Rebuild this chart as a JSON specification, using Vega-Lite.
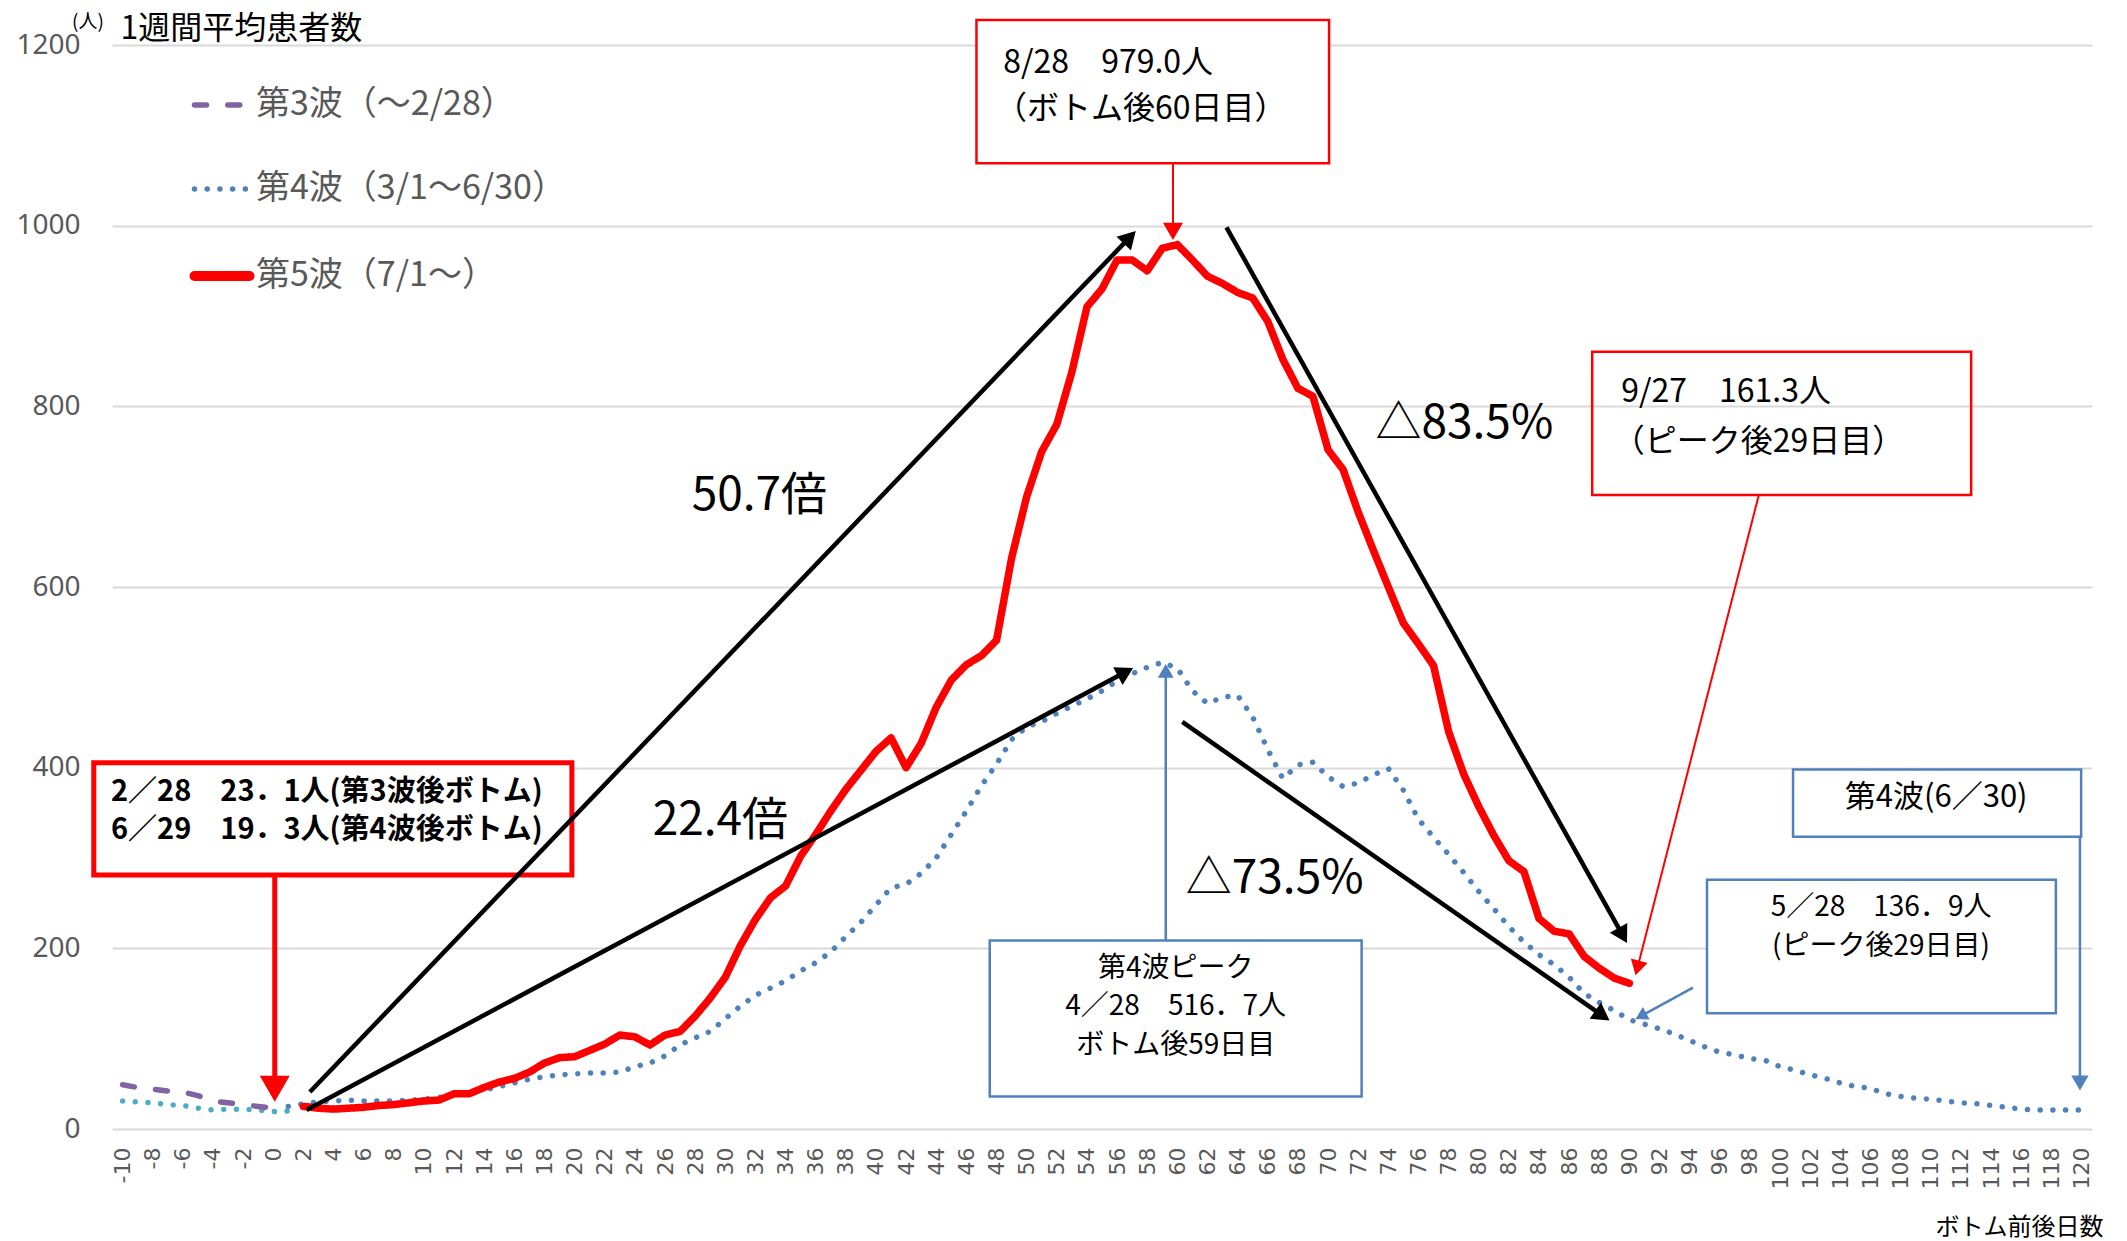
{
  "$schema": "https://vega.github.io/schema/vega-lite/v6.json",
  "width": 1980,
  "height": 1084,
  "autosize": {"type": "none"},
  "padding": {"left": 112, "top": 45, "right": 35, "bottom": 112},
  "background": "#ffffff",
  "config": {"view": {"stroke": null}, "font": "Noto Sans CJK JP"},
  "datasets": {
    "series": [
      {"s": "第3波（〜2/28）", "x": -10, "y": 49}, {"s": "第3波（〜2/28）", "x": -9, "y": 46}, {"s": "第3波（〜2/28）", "x": -8, "y": 44}, {"s": "第3波（〜2/28）", "x": -7, "y": 42}, {"s": "第3波（〜2/28）", "x": -6, "y": 41}, {"s": "第3波（〜2/28）", "x": -5, "y": 37}, {"s": "第3波（〜2/28）", "x": -4, "y": 31}, {"s": "第3波（〜2/28）", "x": -3, "y": 29}, {"s": "第3波（〜2/28）", "x": -2, "y": 27}, {"s": "第3波（〜2/28）", "x": -1, "y": 25}, {"s": "第3波（〜2/28）", "x": 0, "y": 23.1},
      {"s": "第4波（3/1〜6/30）", "x": 1, "y": 25}, {"s": "第4波（3/1〜6/30）", "x": 2, "y": 28}, {"s": "第4波（3/1〜6/30）", "x": 3, "y": 30}, {"s": "第4波（3/1〜6/30）", "x": 4, "y": 31}, {"s": "第4波（3/1〜6/30）", "x": 5, "y": 32}, {"s": "第4波（3/1〜6/30）", "x": 6, "y": 31}, {"s": "第4波（3/1〜6/30）", "x": 7, "y": 31}, {"s": "第4波（3/1〜6/30）", "x": 8, "y": 31}, {"s": "第4波（3/1〜6/30）", "x": 9, "y": 32}, {"s": "第4波（3/1〜6/30）", "x": 10, "y": 33},
      {"s": "第4波（3/1〜6/30）", "x": 11, "y": 35}, {"s": "第4波（3/1〜6/30）", "x": 12, "y": 38}, {"s": "第4波（3/1〜6/30）", "x": 13, "y": 40}, {"s": "第4波（3/1〜6/30）", "x": 14, "y": 43}, {"s": "第4波（3/1〜6/30）", "x": 15, "y": 47}, {"s": "第4波（3/1〜6/30）", "x": 16, "y": 51}, {"s": "第4波（3/1〜6/30）", "x": 17, "y": 55}, {"s": "第4波（3/1〜6/30）", "x": 18, "y": 58}, {"s": "第4波（3/1〜6/30）", "x": 19, "y": 60}, {"s": "第4波（3/1〜6/30）", "x": 20, "y": 61},
      {"s": "第4波（3/1〜6/30）", "x": 21, "y": 62}, {"s": "第4波（3/1〜6/30）", "x": 22, "y": 62}, {"s": "第4波（3/1〜6/30）", "x": 23, "y": 63}, {"s": "第4波（3/1〜6/30）", "x": 24, "y": 69}, {"s": "第4波（3/1〜6/30）", "x": 25, "y": 73}, {"s": "第4波（3/1〜6/30）", "x": 26, "y": 81}, {"s": "第4波（3/1〜6/30）", "x": 27, "y": 93}, {"s": "第4波（3/1〜6/30）", "x": 28, "y": 101}, {"s": "第4波（3/1〜6/30）", "x": 29, "y": 108}, {"s": "第4波（3/1〜6/30）", "x": 30, "y": 122},
      {"s": "第4波（3/1〜6/30）", "x": 31, "y": 136}, {"s": "第4波（3/1〜6/30）", "x": 32, "y": 148}, {"s": "第4波（3/1〜6/30）", "x": 33, "y": 156}, {"s": "第4波（3/1〜6/30）", "x": 34, "y": 164}, {"s": "第4波（3/1〜6/30）", "x": 35, "y": 175}, {"s": "第4波（3/1〜6/30）", "x": 36, "y": 184}, {"s": "第4波（3/1〜6/30）", "x": 37, "y": 196}, {"s": "第4波（3/1〜6/30）", "x": 38, "y": 213}, {"s": "第4波（3/1〜6/30）", "x": 39, "y": 229}, {"s": "第4波（3/1〜6/30）", "x": 40, "y": 248},
      {"s": "第4波（3/1〜6/30）", "x": 41, "y": 267}, {"s": "第4波（3/1〜6/30）", "x": 42, "y": 271}, {"s": "第4波（3/1〜6/30）", "x": 43, "y": 283}, {"s": "第4波（3/1〜6/30）", "x": 44, "y": 300}, {"s": "第4波（3/1〜6/30）", "x": 45, "y": 326}, {"s": "第4波（3/1〜6/30）", "x": 46, "y": 352}, {"s": "第4波（3/1〜6/30）", "x": 47, "y": 380}, {"s": "第4波（3/1〜6/30）", "x": 48, "y": 404}, {"s": "第4波（3/1〜6/30）", "x": 49, "y": 431}, {"s": "第4波（3/1〜6/30）", "x": 50, "y": 445},
      {"s": "第4波（3/1〜6/30）", "x": 51, "y": 451}, {"s": "第4波（3/1〜6/30）", "x": 52, "y": 460}, {"s": "第4波（3/1〜6/30）", "x": 53, "y": 468}, {"s": "第4波（3/1〜6/30）", "x": 54, "y": 476}, {"s": "第4波（3/1〜6/30）", "x": 55, "y": 485}, {"s": "第4波（3/1〜6/30）", "x": 56, "y": 496}, {"s": "第4波（3/1〜6/30）", "x": 57, "y": 504}, {"s": "第4波（3/1〜6/30）", "x": 58, "y": 511}, {"s": "第4波（3/1〜6/30）", "x": 59, "y": 516.7}, {"s": "第4波（3/1〜6/30）", "x": 60, "y": 510},
      {"s": "第4波（3/1〜6/30）", "x": 61, "y": 485}, {"s": "第4波（3/1〜6/30）", "x": 62, "y": 471}, {"s": "第4波（3/1〜6/30）", "x": 63, "y": 478}, {"s": "第4波（3/1〜6/30）", "x": 64, "y": 480}, {"s": "第4波（3/1〜6/30）", "x": 65, "y": 456}, {"s": "第4波（3/1〜6/30）", "x": 66, "y": 420}, {"s": "第4波（3/1〜6/30）", "x": 67, "y": 388}, {"s": "第4波（3/1〜6/30）", "x": 68, "y": 403}, {"s": "第4波（3/1〜6/30）", "x": 69, "y": 406}, {"s": "第4波（3/1〜6/30）", "x": 70, "y": 390},
      {"s": "第4波（3/1〜6/30）", "x": 71, "y": 379}, {"s": "第4波（3/1〜6/30）", "x": 72, "y": 383}, {"s": "第4波（3/1〜6/30）", "x": 73, "y": 392}, {"s": "第4波（3/1〜6/30）", "x": 74, "y": 399}, {"s": "第4波（3/1〜6/30）", "x": 75, "y": 375}, {"s": "第4波（3/1〜6/30）", "x": 76, "y": 343}, {"s": "第4波（3/1〜6/30）", "x": 77, "y": 323}, {"s": "第4波（3/1〜6/30）", "x": 78, "y": 304}, {"s": "第4波（3/1〜6/30）", "x": 79, "y": 284}, {"s": "第4波（3/1〜6/30）", "x": 80, "y": 263},
      {"s": "第4波（3/1〜6/30）", "x": 81, "y": 244}, {"s": "第4波（3/1〜6/30）", "x": 82, "y": 224}, {"s": "第4波（3/1〜6/30）", "x": 83, "y": 207}, {"s": "第4波（3/1〜6/30）", "x": 84, "y": 193}, {"s": "第4波（3/1〜6/30）", "x": 85, "y": 182}, {"s": "第4波（3/1〜6/30）", "x": 86, "y": 168}, {"s": "第4波（3/1〜6/30）", "x": 87, "y": 150}, {"s": "第4波（3/1〜6/30）", "x": 88, "y": 140}, {"s": "第4波（3/1〜6/30）", "x": 89, "y": 131}, {"s": "第4波（3/1〜6/30）", "x": 90, "y": 121},
      {"s": "第4波（3/1〜6/30）", "x": 91, "y": 116}, {"s": "第4波（3/1〜6/30）", "x": 92, "y": 111}, {"s": "第4波（3/1〜6/30）", "x": 93, "y": 105}, {"s": "第4波（3/1〜6/30）", "x": 94, "y": 98}, {"s": "第4波（3/1〜6/30）", "x": 95, "y": 91}, {"s": "第4波（3/1〜6/30）", "x": 96, "y": 85}, {"s": "第4波（3/1〜6/30）", "x": 97, "y": 82}, {"s": "第4波（3/1〜6/30）", "x": 98, "y": 78}, {"s": "第4波（3/1〜6/30）", "x": 99, "y": 76}, {"s": "第4波（3/1〜6/30）", "x": 100, "y": 69},
      {"s": "第4波（3/1〜6/30）", "x": 101, "y": 65}, {"s": "第4波（3/1〜6/30）", "x": 102, "y": 60}, {"s": "第4波（3/1〜6/30）", "x": 103, "y": 56}, {"s": "第4波（3/1〜6/30）", "x": 104, "y": 51}, {"s": "第4波（3/1〜6/30）", "x": 105, "y": 47}, {"s": "第4波（3/1〜6/30）", "x": 106, "y": 45}, {"s": "第4波（3/1〜6/30）", "x": 107, "y": 39}, {"s": "第4波（3/1〜6/30）", "x": 108, "y": 36}, {"s": "第4波（3/1〜6/30）", "x": 109, "y": 34}, {"s": "第4波（3/1〜6/30）", "x": 110, "y": 33},
      {"s": "第4波（3/1〜6/30）", "x": 111, "y": 31}, {"s": "第4波（3/1〜6/30）", "x": 112, "y": 29}, {"s": "第4波（3/1〜6/30）", "x": 113, "y": 28}, {"s": "第4波（3/1〜6/30）", "x": 114, "y": 26}, {"s": "第4波（3/1〜6/30）", "x": 115, "y": 24}, {"s": "第4波（3/1〜6/30）", "x": 116, "y": 22}, {"s": "第4波（3/1〜6/30）", "x": 117, "y": 21}, {"s": "第4波（3/1〜6/30）", "x": 118, "y": 21}, {"s": "第4波（3/1〜6/30）", "x": 119, "y": 21}, {"s": "第4波（3/1〜6/30）", "x": 120, "y": 21},
      {"s": "第5波（7/1〜）", "x": 2, "y": 25}, {"s": "第5波（7/1〜）", "x": 3, "y": 23}, {"s": "第5波（7/1〜）", "x": 4, "y": 22}, {"s": "第5波（7/1〜）", "x": 5, "y": 23}, {"s": "第5波（7/1〜）", "x": 6, "y": 24}, {"s": "第5波（7/1〜）", "x": 7, "y": 26}, {"s": "第5波（7/1〜）", "x": 8, "y": 27}, {"s": "第5波（7/1〜）", "x": 9, "y": 29}, {"s": "第5波（7/1〜）", "x": 10, "y": 31},
      {"s": "第5波（7/1〜）", "x": 11, "y": 32}, {"s": "第5波（7/1〜）", "x": 12, "y": 39}, {"s": "第5波（7/1〜）", "x": 13, "y": 39}, {"s": "第5波（7/1〜）", "x": 14, "y": 46}, {"s": "第5波（7/1〜）", "x": 15, "y": 52}, {"s": "第5波（7/1〜）", "x": 16, "y": 56}, {"s": "第5波（7/1〜）", "x": 17, "y": 63}, {"s": "第5波（7/1〜）", "x": 18, "y": 73}, {"s": "第5波（7/1〜）", "x": 19, "y": 79}, {"s": "第5波（7/1〜）", "x": 20, "y": 80},
      {"s": "第5波（7/1〜）", "x": 21, "y": 87}, {"s": "第5波（7/1〜）", "x": 22, "y": 94}, {"s": "第5波（7/1〜）", "x": 23, "y": 104}, {"s": "第5波（7/1〜）", "x": 24, "y": 102}, {"s": "第5波（7/1〜）", "x": 25, "y": 93}, {"s": "第5波（7/1〜）", "x": 26, "y": 104}, {"s": "第5波（7/1〜）", "x": 27, "y": 108}, {"s": "第5波（7/1〜）", "x": 28, "y": 125}, {"s": "第5波（7/1〜）", "x": 29, "y": 145}, {"s": "第5波（7/1〜）", "x": 30, "y": 168},
      {"s": "第5波（7/1〜）", "x": 31, "y": 203}, {"s": "第5波（7/1〜）", "x": 32, "y": 232}, {"s": "第5波（7/1〜）", "x": 33, "y": 256}, {"s": "第5波（7/1〜）", "x": 34, "y": 269}, {"s": "第5波（7/1〜）", "x": 35, "y": 302}, {"s": "第5波（7/1〜）", "x": 36, "y": 326}, {"s": "第5波（7/1〜）", "x": 37, "y": 352}, {"s": "第5波（7/1〜）", "x": 38, "y": 376}, {"s": "第5波（7/1〜）", "x": 39, "y": 397}, {"s": "第5波（7/1〜）", "x": 40, "y": 418},
      {"s": "第5波（7/1〜）", "x": 41, "y": 433}, {"s": "第5波（7/1〜）", "x": 42, "y": 400}, {"s": "第5波（7/1〜）", "x": 43, "y": 427}, {"s": "第5波（7/1〜）", "x": 44, "y": 467}, {"s": "第5波（7/1〜）", "x": 45, "y": 497}, {"s": "第5波（7/1〜）", "x": 46, "y": 514}, {"s": "第5波（7/1〜）", "x": 47, "y": 524}, {"s": "第5波（7/1〜）", "x": 48, "y": 541}, {"s": "第5波（7/1〜）", "x": 49, "y": 632}, {"s": "第5波（7/1〜）", "x": 50, "y": 700},
      {"s": "第5波（7/1〜）", "x": 51, "y": 750}, {"s": "第5波（7/1〜）", "x": 52, "y": 780}, {"s": "第5波（7/1〜）", "x": 53, "y": 838}, {"s": "第5波（7/1〜）", "x": 54, "y": 910}, {"s": "第5波（7/1〜）", "x": 55, "y": 930}, {"s": "第5波（7/1〜）", "x": 56, "y": 962}, {"s": "第5波（7/1〜）", "x": 57, "y": 962}, {"s": "第5波（7/1〜）", "x": 58, "y": 950}, {"s": "第5波（7/1〜）", "x": 59, "y": 975}, {"s": "第5波（7/1〜）", "x": 60, "y": 979},
      {"s": "第5波（7/1〜）", "x": 61, "y": 962}, {"s": "第5波（7/1〜）", "x": 62, "y": 944}, {"s": "第5波（7/1〜）", "x": 63, "y": 936}, {"s": "第5波（7/1〜）", "x": 64, "y": 926}, {"s": "第5波（7/1〜）", "x": 65, "y": 920}, {"s": "第5波（7/1〜）", "x": 66, "y": 894}, {"s": "第5波（7/1〜）", "x": 67, "y": 852}, {"s": "第5波（7/1〜）", "x": 68, "y": 820}, {"s": "第5波（7/1〜）", "x": 69, "y": 811}, {"s": "第5波（7/1〜）", "x": 70, "y": 752},
      {"s": "第5波（7/1〜）", "x": 71, "y": 730}, {"s": "第5波（7/1〜）", "x": 72, "y": 683}, {"s": "第5波（7/1〜）", "x": 73, "y": 641}, {"s": "第5波（7/1〜）", "x": 74, "y": 600}, {"s": "第5波（7/1〜）", "x": 75, "y": 560}, {"s": "第5波（7/1〜）", "x": 76, "y": 537}, {"s": "第5波（7/1〜）", "x": 77, "y": 513}, {"s": "第5波（7/1〜）", "x": 78, "y": 440}, {"s": "第5波（7/1〜）", "x": 79, "y": 393}, {"s": "第5波（7/1〜）", "x": 80, "y": 357},
      {"s": "第5波（7/1〜）", "x": 81, "y": 325}, {"s": "第5波（7/1〜）", "x": 82, "y": 297}, {"s": "第5波（7/1〜）", "x": 83, "y": 285}, {"s": "第5波（7/1〜）", "x": 84, "y": 233}, {"s": "第5波（7/1〜）", "x": 85, "y": 219}, {"s": "第5波（7/1〜）", "x": 86, "y": 216}, {"s": "第5波（7/1〜）", "x": 87, "y": 191}, {"s": "第5波（7/1〜）", "x": 88, "y": 178}, {"s": "第5波（7/1〜）", "x": 89, "y": 167}, {"s": "第5波（7/1〜）", "x": 90, "y": 161.3}
    ],
    "cyan": [
      {"x": -10, "y": 31}, {"x": -9, "y": 30}, {"x": -8, "y": 29}, {"x": -7, "y": 27}, {"x": -6, "y": 26}, {"x": -5, "y": 23}, {"x": -4, "y": 21}, {"x": -3, "y": 22}, {"x": -2, "y": 22}, {"x": -1, "y": 21}, {"x": 0, "y": 19.3}, {"x": 1, "y": 20}
    ],
    "boxes": [
      {"id": "top", "x": 46.67, "x2": 70.07, "y": 1227.7, "y2": 1069},
      {"id": "r927", "x": 87.53, "x2": 112.68, "y": 860.5, "y2": 701.9},
      {"id": "r228", "x": -11.91, "x2": 19.82, "y": 405.5, "y2": 281.2},
      {"id": "bpeak", "x": 47.55, "x2": 72.23, "y": 208.8, "y2": 36.0},
      {"id": "b630", "x": 100.86, "x2": 119.98, "y": 398.1, "y2": 323.5},
      {"id": "b528", "x": 95.15, "x2": 118.3, "y": 275.8, "y2": 128.2}
    ],
    "arrows": [
      {"id": "A", "x": 2.43, "y": 41, "x2": 56.84, "y2": 987.1},
      {"id": "B", "x": 2.22, "y": 21, "x2": 56.56, "y2": 505.8},
      {"id": "C", "x": 63.26, "y": 998.2, "x2": 89.56, "y2": 214.3},
      {"id": "D", "x": 60.33, "y": 450.6, "x2": 88.21, "y2": 125.6},
      {"id": "E", "x": 0.1, "y": 281.2, "x2": 0.1, "y2": 44.6},
      {"id": "F", "x": 59.71, "y": 1069, "x2": 59.71, "y2": 993.7},
      {"id": "G", "x": 98.59, "y": 701.9, "x2": 90.53, "y2": 178.2},
      {"id": "H", "x": 59.23, "y": 208.8, "x2": 59.23, "y2": 507.1},
      {"id": "I", "x": 119.9, "y": 323.5, "x2": 119.9, "y2": 50.9},
      {"id": "J", "x": 94.22, "y": 156.5, "x2": 90.76, "y2": 124.9}
    ]
  },
  "encoding": {
    "x": {
      "field": "x", "type": "quantitative",
      "scale": {"domain": [-10.7, 120.7], "nice": false, "zero": false},
      "axis": {
        "values": [-10,-8,-6,-4,-2,0,2,4,6,8,10,12,14,16,18,20,22,24,26,28,30,32,34,36,38,40,42,44,46,48,50,52,54,56,58,60,62,64,66,68,70,72,74,76,78,80,82,84,86,88,90,92,94,96,98,100,102,104,106,108,110,112,114,116,118,120],
        "labelExpr": "'' + datum.value",
        "labelAngle": 270, "labelFontSize": 22, "labelFont": "DejaVu Sans", "labelColor": "#595959",
        "labelPadding": 18, "labelOverlap": false, "labelFlush": false, "labelBound": false,
        "ticks": false, "grid": false, "domain": false,
        "title": "ボトム前後日数", "titleFontSize": 24, "titleFontWeight": "normal", "titleColor": "#000000",
        "titleFont": "Noto Sans CJK JP", "titleAlign": "right", "titleBaseline": "middle", "titleX": 1991, "titleY": 98
      }
    },
    "y": {
      "field": "y", "type": "quantitative",
      "scale": {"domain": [0, 1200], "nice": false},
      "axis": {
        "values": [0, 200, 400, 600, 800, 1000, 1200],
        "format": "d",
        "labelFontSize": 28, "labelFont": "Noto Sans", "labelColor": "#595959", "labelPadding": 32,
        "ticks": false, "domain": false, "grid": true, "gridColor": "#D9D9D9", "gridWidth": 2,
        "title": "1週間平均患者数", "titleAngle": 0, "titleAlign": "left", "titleBaseline": "middle",
        "titleX": 8, "titleY": -17, "titleFontSize": 32, "titleFontWeight": "normal", "titleColor": "#000000",
        "titleFont": "Noto Sans CJK JP"
      }
    }
  },
  "layer": [
    {
      "data": {"name": "boxes"},
      "transform": [{"filter": "datum.id === 'top'"}],
      "mark": {"type": "rect", "fill": "#ffffff", "stroke": "#FF0000", "strokeWidth": 2.5},
      "encoding": {"x2": {"field": "x2"}, "y2": {"field": "y2"}}
    },
    {
      "data": {"name": "boxes"},
      "transform": [{"filter": "datum.id === 'r927'"}],
      "mark": {"type": "rect", "fill": null, "fillOpacity": 0, "stroke": "#FF0000", "strokeWidth": 2.5},
      "encoding": {"x2": {"field": "x2"}, "y2": {"field": "y2"}}
    },
    {
      "data": {"name": "boxes"},
      "transform": [{"filter": "datum.id === 'r228'"}],
      "mark": {"type": "rect", "fill": "#ffffff", "stroke": "#FF0000", "strokeWidth": 5},
      "encoding": {"x2": {"field": "x2"}, "y2": {"field": "y2"}}
    },
    {
      "data": {"name": "boxes"},
      "transform": [{"filter": "datum.id === 'bpeak' || datum.id === 'b630' || datum.id === 'b528'"}],
      "mark": {"type": "rect", "fill": "#ffffff", "stroke": "#4F81BD", "strokeWidth": 2.5},
      "encoding": {"x2": {"field": "x2"}, "y2": {"field": "y2"}}
    },
    {
      "data": {"name": "cyan"},
      "mark": {"type": "line", "color": "#4BACC6", "strokeWidth": 5.5, "strokeCap": "round", "strokeDash": [0.01, 12.7]},
      "encoding": {}
    },
    {
      "data": {"name": "series"},
      "transform": [{"filter": "datum.s !== '第5波（7/1〜）'"}],
      "mark": {"type": "line", "strokeWidth": 5.5, "strokeCap": "round", "strokeJoin": "round"},
      "encoding": {
        "color": {
          "field": "s", "type": "nominal",
          "scale": {"domain": ["第3波（〜2/28）", "第4波（3/1〜6/30）", "第5波（7/1〜）"], "range": ["#8064A2", "#4F81BD", "#FF0000"]},
          "legend": {
            "orient": "none", "legendX": 93, "legendY": 43, "title": null, "padding": 0,
            "symbolType": "stroke", "symbolSize": 3025, "symbolStrokeWidth": 5,
            "labelFontSize": 34, "labelColor": "#595959", "labelFont": "Noto Sans CJK JP", "labelLimit": 600,
            "labelOffset": 17, "rowPadding": 50,
            "encode": {"symbols": {"update": {"strokeCap": {"value": "round"}, "strokeWidth": {"signal": "datum.value === '第5波（7/1〜）' ? 10 : 5.5"}}}}
          }
        },
        "strokeDash": {
          "field": "s", "type": "nominal",
          "scale": {"domain": ["第3波（〜2/28）", "第4波（3/1〜6/30）", "第5波（7/1〜）"], "range": [[12, 21.3], [0.01, 12.7], [1, 0]]}
        }
      }
    },
    {
      "data": {"name": "series"},
      "transform": [{"filter": "datum.s === '第5波（7/1〜）'"}],
      "mark": {"type": "line", "strokeWidth": 7.5, "strokeCap": "round", "strokeJoin": "round"},
      "encoding": {
        "color": {"field": "s", "type": "nominal"},
        "strokeDash": {"field": "s", "type": "nominal"}
      }
    },
    {
      "data": {"name": "arrows"},
      "transform": [{"filter": "datum.id === 'A' || datum.id === 'B' || datum.id === 'C' || datum.id === 'D'"}],
      "mark": {"type": "rule", "color": "#000000", "strokeWidth": 4.5},
      "encoding": {"x2": {"field": "x2"}, "y2": {"field": "y2"}}
    },
    {
      "data": {"name": "arrows"},
      "transform": [{"filter": "datum.id === 'E'"}],
      "mark": {"type": "rule", "color": "#FF0000", "strokeWidth": 5},
      "encoding": {"x2": {"field": "x2"}, "y2": {"field": "y2"}}
    },
    {
      "data": {"name": "arrows"},
      "transform": [{"filter": "datum.id === 'F' || datum.id === 'G'"}],
      "mark": {"type": "rule", "color": "#FF0000", "strokeWidth": 2},
      "encoding": {"x2": {"field": "x2"}, "y2": {"field": "y2"}}
    },
    {
      "data": {"name": "arrows"},
      "transform": [{"filter": "datum.id === 'H' || datum.id === 'I' || datum.id === 'J'"}],
      "mark": {"type": "rule", "color": "#4F81BD", "strokeWidth": 2.5},
      "encoding": {"x2": {"field": "x2"}, "y2": {"field": "y2"}}
    },
    {"data": {"values": [{"x": 56.84, "y": 987.1}]}, "mark": {"type": "point", "shape": "triangle-up", "filled": true, "size": 400, "angle": 43.8, "color": "#000000", "opacity": 1}},
    {"data": {"values": [{"x": 56.56, "y": 505.8}]}, "mark": {"type": "point", "shape": "triangle-up", "filled": true, "size": 400, "angle": 61.9, "color": "#000000", "opacity": 1}},
    {"data": {"values": [{"x": 89.56, "y": 214.3}]}, "mark": {"type": "point", "shape": "triangle-up", "filled": true, "size": 400, "angle": 150.8, "color": "#000000", "opacity": 1}},
    {"data": {"values": [{"x": 88.21, "y": 125.6}]}, "mark": {"type": "point", "shape": "triangle-up", "filled": true, "size": 400, "angle": 124.9, "color": "#000000", "opacity": 1}},
    {"data": {"values": [{"x": 0.1, "y": 44.6}]}, "mark": {"type": "point", "shape": "triangle-up", "filled": true, "size": 900, "angle": 180, "color": "#FF0000", "opacity": 1}},
    {"data": {"values": [{"x": 59.71, "y": 993.7}]}, "mark": {"type": "point", "shape": "triangle-up", "filled": true, "size": 400, "angle": 180, "color": "#FF0000", "opacity": 1}},
    {"data": {"values": [{"x": 90.53, "y": 178.2}]}, "mark": {"type": "point", "shape": "triangle-up", "filled": true, "size": 300, "angle": 194.4, "color": "#FF0000", "opacity": 1}},
    {"data": {"values": [{"x": 59.23, "y": 507.1}]}, "mark": {"type": "point", "shape": "triangle-up", "filled": true, "size": 250, "angle": 0, "color": "#4F81BD", "opacity": 1}},
    {"data": {"values": [{"x": 119.9, "y": 50.9}]}, "mark": {"type": "point", "shape": "triangle-up", "filled": true, "size": 300, "angle": 180, "color": "#4F81BD", "opacity": 1}},
    {"data": {"values": [{"x": 90.76, "y": 124.9}]}, "mark": {"type": "point", "shape": "triangle-up", "filled": true, "size": 200, "angle": 241.3, "color": "#4F81BD", "opacity": 1}},
    {
      "data": {"values": [
        {"t": "8/28　979.0人", "x": 48.45, "y": 1179.7},
        {"t": "（ボトム後60日目）", "x": 47.9, "y": 1128.6},
        {"t": "9/27　161.3人", "x": 89.46, "y": 816.2},
        {"t": "（ピーク後29日目）", "x": 88.9, "y": 760.9}
      ]},
      "mark": {"type": "text", "align": "left", "baseline": "middle", "fontSize": 32, "font": "Noto Sans CJK JP", "color": "#000000"},
      "encoding": {"text": {"field": "t"}}
    },
    {
      "data": {"values": [
        {"t": "2／28　23．1人(第3波後ボトム)", "x": -10.77, "y": 373.4},
        {"t": "6／29　19．3人(第4波後ボトム)", "x": -10.77, "y": 331}
      ]},
      "mark": {"type": "text", "align": "left", "baseline": "middle", "fontSize": 29, "fontWeight": "bold", "font": "Noto Sans CJK JP", "color": "#000000"},
      "encoding": {"text": {"field": "t"}}
    },
    {
      "data": {"values": [
        {"t": "第4波ピーク", "x": 59.89, "y": 177.1},
        {"t": "4／28　516．7人", "x": 59.89, "y": 134.7},
        {"t": "ボトム後59日目", "x": 59.89, "y": 92.3}
      ]},
      "mark": {"type": "text", "align": "center", "baseline": "middle", "fontSize": 28, "font": "Noto Sans CJK JP", "color": "#000000"},
      "encoding": {"text": {"field": "t"}}
    },
    {
      "data": {"values": [
        {"t": "第4波(6／30)", "x": 110.36, "y": 366.2}
      ]},
      "mark": {"type": "text", "align": "center", "baseline": "middle", "fontSize": 31, "font": "Noto Sans CJK JP", "color": "#000000"},
      "encoding": {"text": {"field": "t"}}
    },
    {
      "data": {"values": [
        {"t": "5／28　136．9人", "x": 106.7, "y": 245},
        {"t": "(ピーク後29日目)", "x": 106.7, "y": 202}
      ]},
      "mark": {"type": "text", "align": "center", "baseline": "middle", "fontSize": 28, "font": "Noto Sans CJK JP", "color": "#000000"},
      "encoding": {"text": {"field": "t"}}
    },
    {
      "data": {"values": [
        {"t": "50.7倍", "x": 32.26, "y": 700.8},
        {"t": "22.4倍", "x": 29.67, "y": 341.2},
        {"t": "△83.5%", "x": 79.05, "y": 780},
        {"t": "△73.5%", "x": 66.46, "y": 277}
      ]},
      "mark": {"type": "text", "align": "center", "baseline": "middle", "fontSize": 46, "font": "Noto Sans CJK JP", "color": "#000000"},
      "encoding": {"text": {"field": "t"}}
    },
    {
      "data": {"values": [{"t": "(人)", "x": -12.3, "y": 1226}]},
      "mark": {"type": "text", "align": "center", "baseline": "middle", "fontSize": 19, "font": "Noto Sans CJK JP", "color": "#000000"},
      "encoding": {"text": {"field": "t"}}
    }
  ]
}
